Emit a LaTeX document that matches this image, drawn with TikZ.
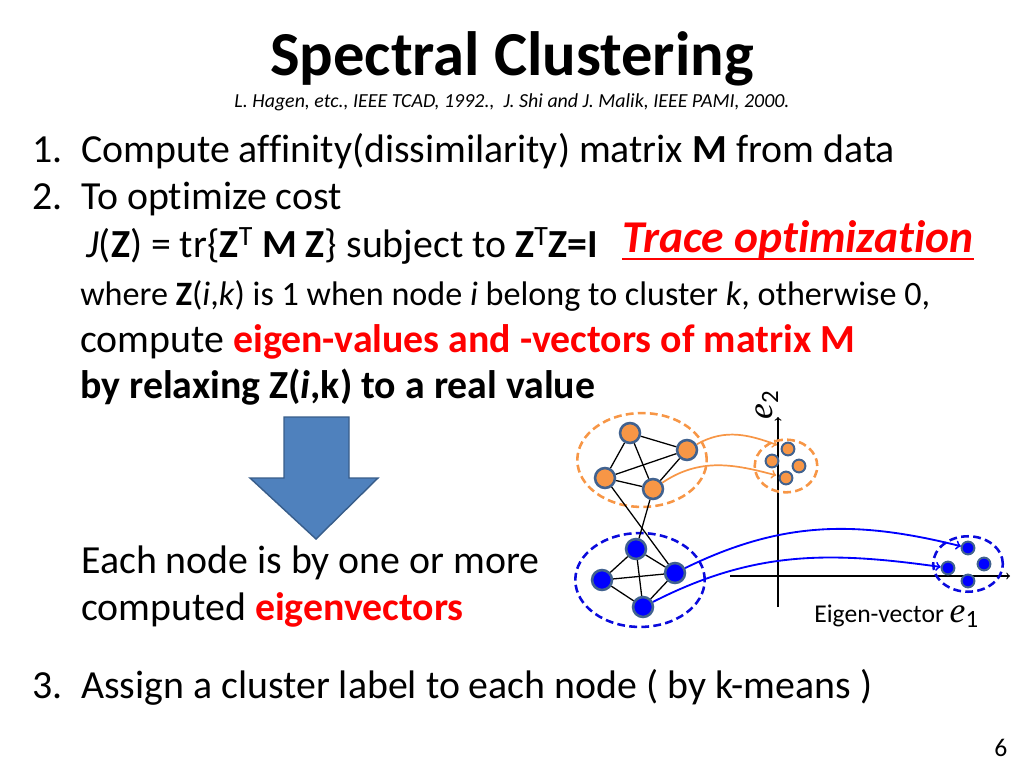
\documentclass[tikz,border=0pt]{standalone}
\usepackage{fontspec}
\setmainfont{Carlito}[Ligatures={NoCommon}]
\newfontfamily\axisfont{Liberation Serif}[Ligatures={NoCommon}]
\usepackage{xcolor}
\usetikzlibrary{shapes.geometric}
\definecolor{ofill}{HTML}{F79646}
\definecolor{nborder}{HTML}{41628F}
\definecolor{bfill}{HTML}{0000FF}
\definecolor{bdash}{HTML}{0A0ADC}
\definecolor{arrowfill}{HTML}{4F81BD}
\definecolor{arrowline}{HTML}{385D8A}
\tikzset{txt/.style={anchor=base west, inner sep=0pt, font=\fontsize{28}{34}\selectfont}}
\tikzset{onode/.style={circle, draw=nborder, line width=1.8pt, fill=ofill, minimum size=14pt, inner sep=0pt}}
\tikzset{bnode/.style={onode, fill=bfill}}
\tikzset{odot/.style={onode, line width=1.4pt, minimum size=9pt}}
\tikzset{bdot/.style={odot, fill=bfill}}
\tikzset{ogroup/.style={ellipse, draw=ofill, dashed, line width=1.8pt, dash pattern=on 5.5pt off 3pt, inner sep=0pt}}
\tikzset{bgroup/.style={ogroup, draw=bdash}}
\tikzset{edge/.style={black, line width=0.9pt}}
\newcommand{\evec}[1]{{\axisfont\itshape e}\textsubscript{#1}}

\begin{document}
\begin{tikzpicture}[x=0.703125pt, y=-0.703125pt]
\useasboundingbox (0,0) rectangle (1024,768);

\node [anchor=base, inner sep=0pt, font=\fontsize{44}{52}\selectfont\bfseries] (title) at (512,76) {Spectral Clustering};
\node [anchor=base, inner sep=0pt, font=\fontsize{14}{17}\selectfont\itshape] (refs) at (512,108) {L. Hagen, etc., IEEE TCAD, 1992.,~ J. Shi and J. Malik, IEEE PAMI, 2000.};

\node [txt] (n1) at (32,163) {1.};
\node [txt] (l1) at (81,163) {Compute affinity(dissimilarity) matrix \textbf{M} from data};
\node [txt] (n2) at (32,210) {2.};
\node [txt] (l2) at (81,210) {To optimize cost};
\node [txt] (cost) at (86,258) {\textit{J}(\textbf{Z}) = tr\{\textbf{Z}\textsuperscript{T} \textbf{M Z}\} subject to \textbf{Z}\textsuperscript{T}\textbf{Z=I}};
\node [txt, font=\fontsize{32}{38}\selectfont\bfseries\itshape, text=red] (trace) at (622,253) {Trace optimization};
\draw [red, line width=1.4pt] ([yshift=-4.2pt]trace.base west) -- ([yshift=-4.2pt]trace.base east);
\node [txt, font=\fontsize{24}{29}\selectfont] (where) at (80,305) {where \textbf{Z}(\textit{i},\textit{k}) is 1 when node \textit{i} belong to cluster \textit{k}, otherwise 0,};
\node [txt] (eig) at (80,352) {compute \textcolor{red}{\textbf{eigen-values and -vectors of matrix M}}};
\node [txt] (relax) at (80,398) {\textbf{by relaxing Z(\textit{i},k) to a real value}};

\draw [fill=arrowfill, draw=arrowline, line width=1pt] (284,417) -- (349,417) -- (349,478) -- (378,478) -- (316,539) -- (250,478) -- (284,478) -- cycle;

\node [txt] (each) at (81,573) {Each node is by one or more};
\node [txt] (comp) at (81,620) {computed \textcolor{red}{\textbf{eigenvectors}}};
\node [txt] (n3) at (32,698) {3.};
\node [txt] (l3) at (81,698) {Assign a cluster label to each node ( by k-means )};
\node [txt, font=\fontsize{18}{22}\selectfont] (page) at (994,756) {6};

% axes
\coordinate (ybot) at (778,607);
\coordinate (ytop) at (778,417);
\coordinate (xleft) at (730,576);
\coordinate (xright) at (1010,576);
\draw [->, line width=0.8pt] (ybot) -- (ytop);
\draw [->, line width=0.8pt] (xleft) -- (xright);
\node [rotate=90, inner sep=0pt, font=\fontsize{25}{28}\selectfont] (e2) at (767,405) {\evec{2}};
\node [txt, font=\fontsize{18}{22}\selectfont] (e1) at (814,622) {Eigen-vector \fontsize{25}{28}\selectfont\evec{1}};

% groups
\node [ogroup, minimum width=91pt, minimum height=66pt] (og) at (642,460) {};
\node [bgroup, minimum width=91pt, minimum height=66pt] (bg) at (640,580) {};
\node [ogroup, minimum width=44pt, minimum height=37pt] (os) at (786,466) {};
\node [bgroup, minimum width=49pt, minimum height=39pt] (bs) at (968,564) {};

% graph
\node [onode] (o1) at (630,433) {};
\node [onode] (o2) at (687,450) {};
\node [onode] (o3) at (605,478) {};
\node [onode] (o4) at (653,489) {};
\node [bnode] (b1) at (636,549) {};
\node [bnode] (b2) at (602,580) {};
\node [bnode] (b3) at (675,573) {};
\node [bnode] (b4) at (643,607) {};
\foreach \a/\b in {o1/o2, o1/o3, o1/o4, o2/o3, o2/o4, o3/o4, b1/b2, b1/b3, b1/b4, b2/b3, b2/b4, b3/b4, o3/b3, o4/b1}
  \draw [edge] (\a) -- (\b);

% embedded points
\node [odot] (s1) at (788,449) {};
\node [odot] (s2) at (772,461) {};
\node [odot] (s3) at (799,466) {};
\node [odot] (s4) at (786,478) {};
\node [bdot] (t1) at (968,548) {};
\node [bdot] (t2) at (948,568) {};
\node [bdot] (t3) at (984,564) {};
\node [bdot] (t4) at (968,581) {};

\draw [->, ofill, line width=1.2pt, shorten >=3pt] (o2) to [out=30, in=160] (s1);
\draw [->, ofill, line width=1.2pt, shorten >=2pt] (o4) to [out=34, in=165] (s4);
\draw [->, bfill, line width=1.3pt] (b3) to [out=26, in=166] (t1);
\draw [->, bfill, line width=1.3pt] (b4) to [out=27, in=172] (t2);
\end{tikzpicture}
\end{document}
